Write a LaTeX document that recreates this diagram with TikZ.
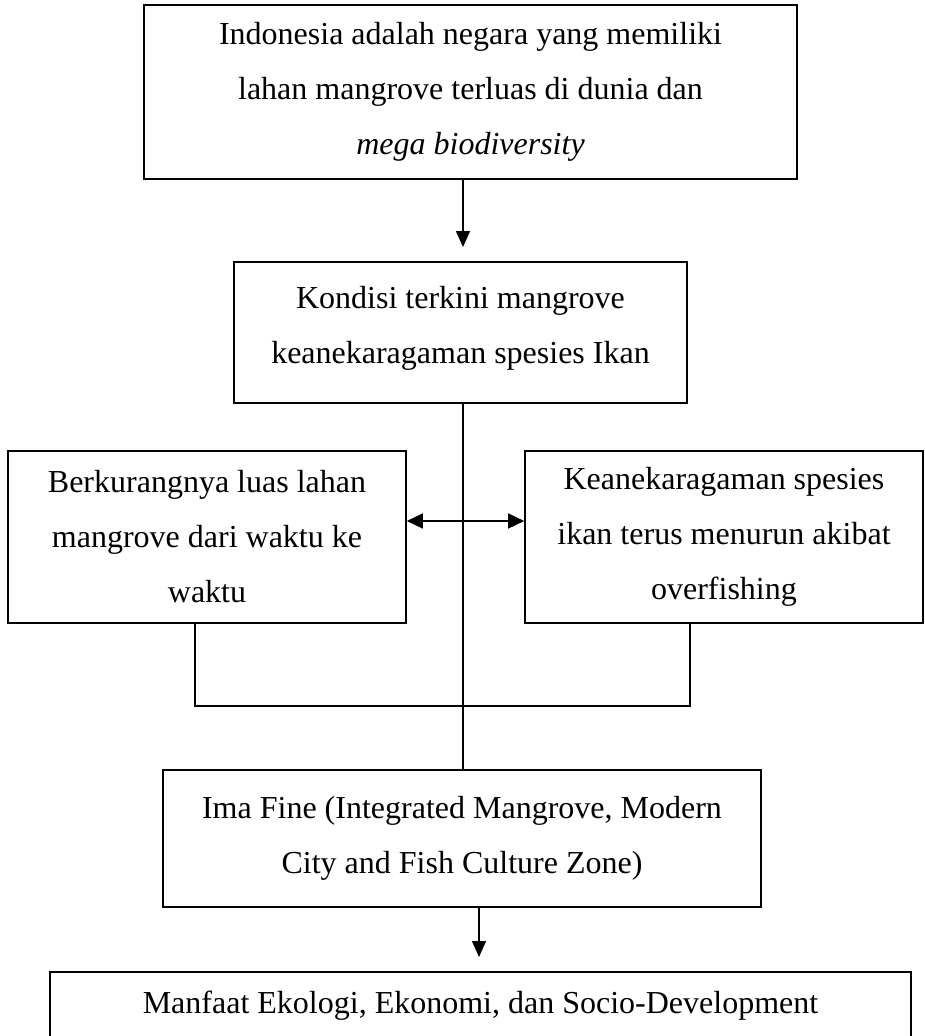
\documentclass[tikz,border=0pt]{standalone}
\usepackage{fontspec}
\setmainfont{Liberation Serif}
\usepackage{tikz}
\usetikzlibrary{arrows.meta, calc}

\begin{document}
\begin{tikzpicture}[x=1pt, y=-1pt,
    box/.style={draw=black, line width=1.6pt, rectangle, inner sep=0pt, align=center,
                font=\fontsize{32}{55}\selectfont},
    link/.style={draw=black, line width=1.5pt},
    arr/.style={link, -{Triangle[length=16pt, width=14pt]}},
    dblarr/.style={link, {Triangle[length=16pt, width=15pt]}-{Triangle[length=16pt, width=15pt]}}]

\clip (0,0) rectangle (925,1036);

% Top box
\node[box, minimum width=653, minimum height=174] (indo) at (470.5, 92)
    {Indonesia adalah negara yang memiliki\\lahan mangrove terluas di dunia dan\\\textit{mega biodiversity}};

% Current condition
\node[box, minimum width=453, minimum height=141] (kondisi) at (460.5, 332.5)
    {Kondisi terkini mangrove\\keanekaragaman spesies Ikan\\[-39pt]};

% Left and right problems
\node[box, minimum width=398, minimum height=172] (luas) at (207, 537)
    {Berkurangnya luas lahan\\mangrove dari waktu ke\\waktu};
\node[box, minimum width=398, minimum height=172] (ikan) at (724, 537)
    {Keanekaragaman spesies\\ikan terus menurun akibat\\overfishing};

% Solution
\node[box, minimum width=598, minimum height=137] (imafine) at (462, 838.5)
    {Ima Fine (Integrated Mangrove, Modern\\City and Fish Culture Zone)};

% Benefits (runs off the page)
\node[box, minimum width=861, minimum height=67] (manfaat) at (480.5, 1005.5)
    {Manfaat Ekologi, Ekonomi, dan Socio-Development};

% Connector points
\coordinate (tipA) at (463, 247);
\coordinate (spine) at (463, 0);
\coordinate (joinL) at (195, 706);
\coordinate (joinR) at (690, 706);
\coordinate (tipB) at (479, 957);

% Connectors
\draw[arr] (indo.south -| tipA) -- (tipA);
\draw[link] (kondisi.south -| spine) -- (imafine.north -| spine);
\draw[dblarr] ([yshift=16pt]luas.east) -- ([yshift=16pt]ikan.west);
\draw[link] (luas.south -| joinL) -- (joinL) -- (joinR) -- (ikan.south -| joinR);
\draw[arr] (imafine.south -| tipB) -- (tipB);

\end{tikzpicture}
\end{document}
